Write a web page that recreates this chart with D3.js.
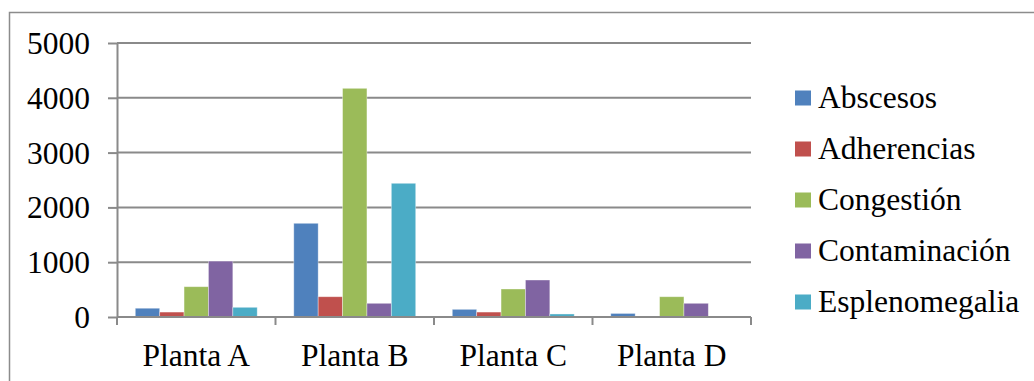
<!DOCTYPE html>
<html>
<head>
<meta charset="utf-8">
<script src="https://cdn.jsdelivr.net/npm/d3@7"></script>
</head>
<body style="margin:0">
<svg id="chart" width="1034" height="381" font-family="Liberation Serif" style="display:block;background:#fff"></svg>
<script>
// Plants (x categories) and lesion types (series)
const categories = ["Planta A", "Planta B", "Planta C", "Planta D"];
const seriesNames = ["Abscesos", "Adherencias", "Congestión", "Contaminación", "Esplenomegalia"];
const seriesColors = ["#4F81BD", "#C0504D", "#9BBB59", "#8064A2", "#4BACC6"];

// Counts per plant, one array per lesion type
const abscesos       = [160, 1710, 140, 65];
const adherencias    = [90, 370, 90, 0];
const congestion     = [553, 4173, 511, 370];
const contaminacion  = [1020, 250, 675, 250];
const esplenomegalia = [177, 2440, 55, 0];
const seriesValues = [abscesos, adherencias, congestion, contaminacion, esplenomegalia];

const yTicks = [0, 1000, 2000, 3000, 4000, 5000];

const FONT = "Liberation Serif";
const FONT_SIZE = 31.5;

const svg = d3.select("#chart");

// Outer frame (left and top edges visible)
svg.append("path")
  .attr("d", "M9.5,381 L9.5,12.5 L1034,12.5")
  .attr("fill", "none")
  .attr("stroke", "#8c8c8c")
  .attr("stroke-width", 1.5);

const plot = { left: 117, right: 751, top: 43, bottom: 317 };

const x = d3.scaleBand().domain(categories).range([plot.left, plot.right]).padding(0);
const xs = d3.scaleBand().domain(seriesNames).range([0, x.bandwidth()])
  .paddingInner(0).paddingOuter(0.75);
const y = d3.scaleLinear().domain([0, 5000]).range([plot.bottom, plot.top]);

// Horizontal gridlines
svg.append("g")
  .selectAll("line")
  .data(yTicks.filter(t => t > 0))
  .join("line")
  .attr("x1", plot.left).attr("x2", plot.right)
  .attr("y1", d => y(d)).attr("y2", d => y(d))
  .attr("stroke", "#8a8a8a")
  .attr("stroke-width", 2);

// Bars
const groups = svg.append("g")
  .selectAll("g")
  .data(seriesNames)
  .join("g")
  .attr("fill", (d, i) => seriesColors[i]);

groups.selectAll("rect")
  .data((s, i) => categories.map((c, j) => ({ cat: c, s: s, v: seriesValues[i][j] })))
  .join("rect")
  .attr("x", d => x(d.cat) + xs(d.s))
  .attr("width", xs.bandwidth())
  .attr("y", d => y(d.v))
  .attr("height", d => y(0) - y(d.v))
  .attr("stroke", "rgba(255,255,255,0.45)")
  .attr("stroke-width", 0.8);

// Y axis
const yAxis = svg.append("g")
  .attr("transform", `translate(${plot.left},0)`)
  .call(d3.axisLeft(y).tickValues(yTicks).tickSize(9).tickPadding(18).tickFormat(d3.format("d")))
  .attr("font-family", FONT)
  .attr("font-size", FONT_SIZE);
yAxis.select(".domain").attr("stroke", "#8a8a8a").attr("stroke-width", 2).attr("d", `M0.5,${plot.top}V${plot.bottom}`);
yAxis.selectAll(".tick line").attr("stroke", "#8a8a8a").attr("stroke-width", 2);
yAxis.selectAll(".tick text")
  .attr("fill", "#000")
  .attr("dy", "0.33em");

// X axis
const xAxis = svg.append("g")
  .attr("transform", `translate(0,${plot.bottom})`)
  .call(d3.axisBottom(x).tickSize(0).tickPadding(0))
  .attr("font-family", FONT)
  .attr("font-size", FONT_SIZE);
xAxis.select(".domain").attr("stroke", "#8a8a8a").attr("stroke-width", 2)
  .attr("d", `M${plot.left},0H${plot.right}`);
xAxis.selectAll(".tick text")
  .attr("fill", "#000")
  .attr("y", 49).attr("dy", 0);

// Category boundary tick marks
const bounds = categories.map(c => x(c)).concat([plot.right]);
xAxis.append("g")
  .selectAll("line")
  .data(bounds)
  .join("line")
  .attr("x1", d => d).attr("x2", d => d)
  .attr("y1", 0).attr("y2", 8)
  .attr("stroke", "#8a8a8a")
  .attr("stroke-width", 2);

// Legend
const legend = svg.append("g")
  .attr("transform", "translate(795,98)")
  .attr("font-family", FONT)
  .attr("font-size", FONT_SIZE);
const items = legend.selectAll("g")
  .data(seriesNames)
  .join("g")
  .attr("transform", (d, i) => `translate(0,${i * 51})`);
items.append("rect")
  .attr("x", 0).attr("y", -7.5)
  .attr("width", 16).attr("height", 15)
  .attr("fill", (d, i) => seriesColors[i]);
items.append("text")
  .attr("x", 23)
  .attr("dy", "0.33em")
  .attr("fill", "#000")
  .text(d => d);
</script>
</body>
</html>
